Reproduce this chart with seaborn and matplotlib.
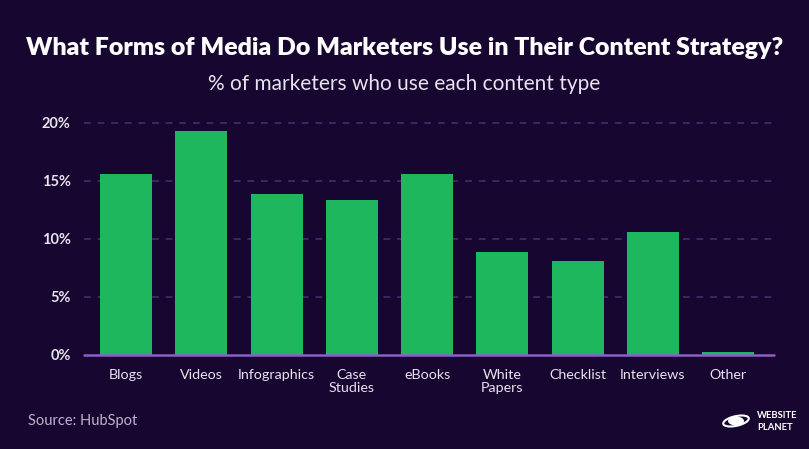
import matplotlib
matplotlib.use("Agg")
import matplotlib.pyplot as plt
import seaborn as sns
import pandas as pd
from matplotlib.patches import Circle, Ellipse

categories = ["Blogs", "Videos", "Infographics", "Case\nStudies", "eBooks",
              "White\nPapers", "Checklist", "Interviews", "Other"]
values = [15.6, 19.3, 13.9, 13.4, 15.6, 8.9, 8.1, 10.6, 0.3]
yticks = [0, 5, 10, 15, 20]
ytick_labels = ["0%", "5%", "10%", "15%", "20%"]

BG = "#170630"
GREEN = "#1fb75d"
GRID = "#3d2766"
BASE = "#8e5fc8"
TXT = "#e6e2ee"

sns.set_theme(style="white")
plt.rcParams["font.family"] = ["Lato", "DejaVu Sans"]

df = pd.DataFrame({"cat": categories, "val": values})

fig = plt.figure(figsize=(8.09, 4.49), dpi=100, facecolor=BG)
W, H = 809, 449
ax = fig.add_axes([84 / W, 1 - 355 / H, (774 - 84) / W, (355 - 123) / H])
ax.set_facecolor(BG)

sns.barplot(data=df, x="cat", y="val", color=GREEN, width=0.69, saturation=1,
            edgecolor=GREEN, linewidth=0, ax=ax, zorder=3)

ax.set_xlim(-0.56, 8.61)
ax.set_ylim(0, 20)
ax.set_yticks(yticks)
ax.set_yticklabels(ytick_labels)
for y in yticks[1:]:
    ax.axhline(y, color=GRID, lw=1.4, ls=(0, (3.5, 3.5)), zorder=1, clip_on=False)
ax.axhline(0, color=BASE, lw=1.8, zorder=4, clip_on=False)

for s in ax.spines.values():
    s.set_visible(False)
ax.set_xlabel("")
ax.set_ylabel("")
ax.tick_params(axis="both", length=0)
ax.tick_params(axis="y", pad=9.5, labelsize=10.5, labelcolor=TXT)
ax.tick_params(axis="x", pad=10, labelsize=10.3, labelcolor=TXT)
for t in ax.get_yticklabels():
    t.set_fontweight("bold")
for t in ax.get_xticklabels():
    t.set_linespacing(1.1)
    t.set_verticalalignment("top")

fig.text(0.5, 1 - 48 / H, "What Forms of Media Do Marketers Use in Their Content Strategy?",
         ha="center", va="center", color="white", fontsize=17.9, fontweight="heavy")
fig.text(0.5, 1 - 84 / H, "% of marketers who use each content type",
         ha="center", va="center", color=TXT, fontsize=15)
fig.text(28 / W, 1 - 421 / H, "Source: HubSpot", ha="left", va="center",
         color="#bdb4cc", fontsize=10.5)

# logo
cx, cy = 736 / W, 1 - 421 / H
fig.patches.append(Circle((cx, cy), 8 / W, transform=fig.transFigure,
                          facecolor="white", edgecolor="none"))
fig.patches.append(Ellipse((cx, cy), 28 / W, 9 / H, angle=30,
                           transform=fig.transFigure, facecolor="none",
                           edgecolor="white", lw=1.5))
fig.text(757 / W, 1 - 415 / H, "WEBSITE", ha="left", va="center", color="white",
         fontsize=6.8, fontweight="bold")
fig.text(757 / W, 1 - 427 / H, "PLANET", ha="left", va="center", color="white",
         fontsize=6.8, fontweight="bold")

fig.savefig("out.png", dpi=100, facecolor=BG)
